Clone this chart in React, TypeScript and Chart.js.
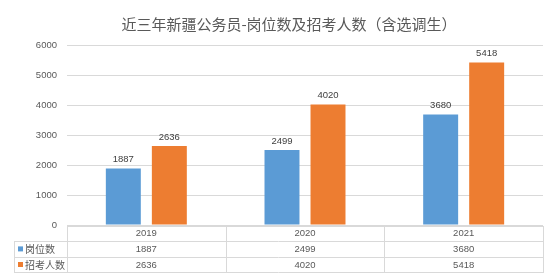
import React, { useEffect, useRef } from "react";
import { Chart, registerables } from "chart.js";

Chart.register(...registerables);

const TITLE = "近三年新疆公务员-岗位数及招考人数（含选调生）";
const YEARS = ["2019", "2020", "2021"];
const POSTS = [1887, 2499, 3680];
const APPLICANTS = [2636, 4020, 5418];
const SERIES_NAMES = ["岗位数", "招考人数"];
const COLORS = ["#5B9BD5", "#ED7D31"];

const CJK = '"Noto Sans CJK SC", "Noto Sans", sans-serif';
const NUM = '"Liberation Sans", "DejaVu Sans", sans-serif';
const TEXT = "#595959";
const LINE = "#d9d9d9";

const tablePlugin = {
  id: "titleLabelsTable",
  afterDraw(chart: any) {
    const { ctx, chartArea, scales } = chart;
    const x = scales.x;
    const left = chartArea.left;
    const right = chartArea.right;
    const bottom = chartArea.bottom;
    const legendLeft = 14;
    const rowH = 15.6;
    const colW = (right - left) / YEARS.length;

    ctx.save();

    // title
    ctx.fillStyle = TEXT;
    ctx.font = `15px ${CJK}`;
    ctx.textAlign = "center";
    ctx.textBaseline = "middle";
    ctx.fillText(TITLE, 289, 24);

    // value labels above bars
    ctx.font = `9.5px ${NUM}`;
    ctx.fillStyle = "#404040";
    ctx.textBaseline = "bottom";
    chart.data.datasets.forEach((_: any, di: number) => {
      const meta = chart.getDatasetMeta(di);
      meta.data.forEach((bar: any, i: number) => {
        const v = chart.data.datasets[di].data[i];
        ctx.fillText(String(v), bar.x, bar.y - 4);
      });
    });

    // data table
    const y0 = bottom + 0.5;
    const y1 = y0 + rowH;
    const y2 = y1 + rowH;
    const y3 = y2 + rowH;
    ctx.strokeStyle = LINE;
    ctx.lineWidth = 1;
    ctx.beginPath();
    ctx.moveTo(left, Math.round(y0) + 0.5);
    ctx.lineTo(right, Math.round(y0) + 0.5);
    [y1, y2, y3].forEach((yy) => {
      ctx.moveTo(legendLeft, Math.round(yy) + 0.5);
      ctx.lineTo(right, Math.round(yy) + 0.5);
    });
    ctx.moveTo(legendLeft + 0.5, Math.round(y1));
    ctx.lineTo(legendLeft + 0.5, Math.round(y3) + 1);
    for (let c = 0; c <= YEARS.length; c++) {
      const xx = Math.round(left + c * colW) + 0.5;
      ctx.moveTo(xx, Math.round(y0));
      ctx.lineTo(xx, Math.round(y3) + 1);
    }
    ctx.stroke();

    ctx.fillStyle = TEXT;
    ctx.textAlign = "center";
    ctx.textBaseline = "middle";
    ctx.font = `9.5px ${NUM}`;
    YEARS.forEach((yr, i) => {
      const cx = x.getPixelForValue(i);
      ctx.fillText(yr, cx, (y0 + y1) / 2 + 0.5);
      ctx.fillText(String(POSTS[i]), cx, (y1 + y2) / 2 + 0.5);
      ctx.fillText(String(APPLICANTS[i]), cx, (y2 + y3) / 2 + 0.5);
    });

    // legend keys in the table
    [y1, y2].forEach((yy, k) => {
      const cy = yy + rowH / 2;
      ctx.fillStyle = COLORS[k];
      ctx.fillRect(18, cy - 2.5, 5, 5);
      ctx.fillStyle = TEXT;
      ctx.textAlign = "left";
      ctx.font = `10px ${CJK}`;
      ctx.fillText(SERIES_NAMES[k], 25, cy + 0.5);
    });

    ctx.restore();
  },
};

export default function App() {
  const canvasRef = useRef<HTMLCanvasElement | null>(null);

  useEffect(() => {
    if (!canvasRef.current) return;
    const chart = new Chart(canvasRef.current, {
      type: "bar",
      data: {
        labels: YEARS,
        datasets: [
          {
            label: SERIES_NAMES[0],
            data: POSTS,
            backgroundColor: COLORS[0],
            categoryPercentage: 0.58,
            barPercentage: 0.76,
          },
          {
            label: SERIES_NAMES[1],
            data: APPLICANTS,
            backgroundColor: COLORS[1],
            categoryPercentage: 0.58,
            barPercentage: 0.76,
          },
        ],
      },
      options: {
        responsive: false,
        animation: false,
        layout: { padding: { top: 45, right: 11, bottom: 53, left: 0 } },
        plugins: {
          legend: { display: false },
          title: { display: false },
          tooltip: { enabled: false },
        },
        scales: {
          x: { display: false },
          y: {
            min: 0,
            max: 6000,
            ticks: {
              stepSize: 1000,
              padding: 10,
              color: TEXT,
              font: { size: 9.5, family: NUM },
              callback: (v: any) => String(v),
            },
            grid: { color: LINE, drawTicks: false },
            border: { display: false },
            afterFit(scale: any) {
              scale.width = 67;
            },
          },
        },
      },
      plugins: [tablePlugin],
    });
    return () => chart.destroy();
  }, []);

  return (
    <div style={{ position: "absolute", left: 0, top: 0, width: 554, height: 278, background: "#fff" }}>
      <canvas ref={canvasRef} width={554} height={278} />
    </div>
  );
}
